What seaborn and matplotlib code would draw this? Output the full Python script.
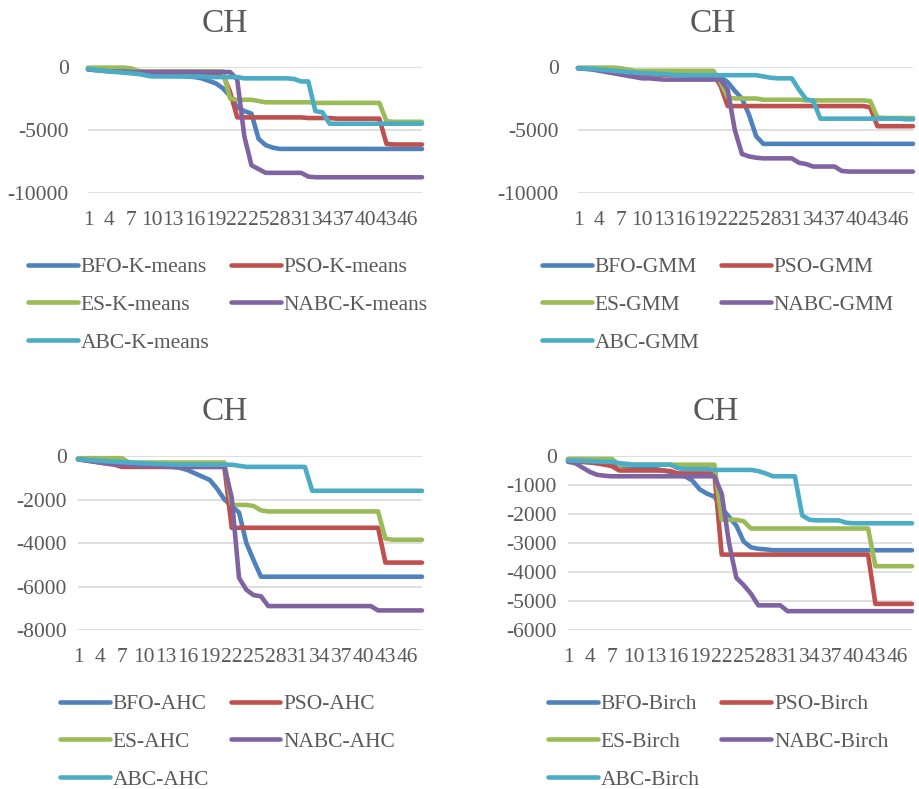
import matplotlib

matplotlib.use("Agg")
import matplotlib.pyplot as plt
import pandas as pd
import seaborn as sns

# iterations on the x axis
iters = list(range(1, 49))

methods = ["BFO", "PSO", "ES", "NABC", "ABC"]
colors = ["#4F81BD", "#C0504D", "#9BBB59", "#8064A2", "#4BACC6"]

# ---- K-means panel ----
kmeans_bfo = [-150, -200, -250, -300, -350, -400, -450, -500, -550, -600, -650, -650,
              -700, -700, -750, -800, -900, -1100, -1300, -1700, -2300, -3200, -3500, -3700,
              -5700, -6200, -6400, -6500, -6500, -6500, -6500, -6500, -6500, -6500, -6500, -6500,
              -6500, -6500, -6500, -6500, -6500, -6500, -6500, -6500, -6500, -6500, -6500, -6500]
kmeans_pso = [-150, -200, -250, -300, -350, -400, -450, -500, -550, -550, -600, -600,
              -600, -600, -600, -600, -600, -600, -600, -600, -2000, -4000, -4000, -4000,
              -4000, -4000, -4000, -4000, -4000, -4000, -4000, -4050, -4050, -4050, -4050, -4100,
              -4100, -4100, -4100, -4100, -4100, -4100, -6100, -6150, -6150, -6150, -6150, -6150]
kmeans_es = [-50, -50, -50, -50, -50, -50, -100, -300, -350, -350, -350, -350,
             -350, -350, -350, -350, -350, -350, -350, -350, -2500, -2600, -2600, -2600,
             -2700, -2800, -2800, -2800, -2800, -2800, -2800, -2800, -2850, -2850, -2850, -2850,
             -2850, -2850, -2850, -2850, -2850, -2850, -4300, -4350, -4350, -4350, -4350, -4350]
kmeans_nabc = [-200, -250, -300, -350, -350, -350, -400, -400, -400, -400, -400, -400,
               -400, -400, -400, -400, -400, -400, -400, -400, -400, -1000, -5500, -7800,
               -8100, -8400, -8400, -8400, -8400, -8400, -8400, -8700, -8750, -8750, -8750, -8750,
               -8750, -8750, -8750, -8750, -8750, -8750, -8750, -8750, -8750, -8750, -8750, -8750]
kmeans_abc = [-150, -250, -300, -350, -400, -450, -500, -550, -650, -750, -750, -750,
              -750, -750, -750, -750, -750, -800, -800, -800, -800, -800, -900, -900,
              -900, -900, -900, -900, -900, -950, -1150, -1150, -3500, -3600, -4500, -4500,
              -4500, -4500, -4500, -4500, -4500, -4500, -4500, -4500, -4500, -4500, -4500, -4500]

# ---- GMM panel ----
gmm_bfo = [-100, -120, -150, -200, -250, -300, -350, -400, -450, -500, -550, -600,
           -600, -650, -650, -650, -700, -700, -700, -700, -800, -1200, -1900, -2500,
           -3800, -5500, -6100, -6100, -6100, -6100, -6100, -6100, -6100, -6100, -6100, -6100,
           -6100, -6100, -6100, -6100, -6100, -6100, -6100, -6100, -6100, -6100, -6100, -6100]
gmm_pso = [-100, -120, -150, -200, -250, -300, -400, -450, -500, -550, -550, -550,
           -600, -600, -600, -600, -600, -600, -600, -600, -1500, -3100, -3100, -3100,
           -3100, -3100, -3100, -3100, -3100, -3100, -3100, -3100, -3100, -3100, -3100, -3100,
           -3100, -3100, -3100, -3100, -3100, -3200, -4700, -4700, -4700, -4700, -4700, -4700]
gmm_es = [-50, -50, -50, -50, -50, -50, -100, -200, -300, -300, -300, -300,
          -300, -300, -300, -300, -300, -300, -300, -300, -1200, -2400, -2500, -2500,
          -2500, -2500, -2600, -2600, -2600, -2600, -2600, -2600, -2650, -2650, -2650, -2650,
          -2650, -2650, -2650, -2650, -2650, -2700, -4000, -4050, -4050, -4050, -4050, -4050]
gmm_nabc = [-100, -150, -200, -300, -400, -500, -600, -700, -800, -900, -900, -950,
            -1000, -1000, -1000, -1000, -1000, -1000, -1000, -1000, -1000, -1800, -5000, -6900,
            -7100, -7200, -7250, -7250, -7250, -7250, -7250, -7600, -7700, -7900, -7900, -7900,
            -7900, -8250, -8300, -8300, -8300, -8300, -8300, -8300, -8300, -8300, -8300, -8300]
gmm_abc = [-100, -120, -150, -200, -250, -300, -350, -400, -450, -500, -500, -550,
           -550, -600, -650, -650, -650, -650, -650, -650, -650, -650, -650, -650,
           -650, -650, -750, -850, -900, -900, -900, -1800, -2550, -2700, -4100, -4100,
           -4100, -4100, -4100, -4100, -4100, -4100, -4100, -4100, -4100, -4100, -4150, -4150]

# ---- AHC panel ----
ahc_bfo = [-150, -180, -200, -230, -260, -280, -300, -320, -350, -380, -400, -420,
           -450, -500, -550, -650, -800, -950, -1100, -1500, -2000, -2300, -2600, -4000,
           -4800, -5550, -5550, -5550, -5550, -5550, -5550, -5550, -5550, -5550, -5550, -5550,
           -5550, -5550, -5550, -5550, -5550, -5550, -5550, -5550, -5550, -5550, -5550, -5550]
ahc_pso = [-150, -200, -250, -300, -350, -400, -500, -500, -500, -500, -500, -500,
           -500, -500, -500, -500, -500, -500, -500, -500, -500, -3300, -3300, -3300,
           -3300, -3300, -3300, -3300, -3300, -3300, -3300, -3300, -3300, -3300, -3300, -3300,
           -3300, -3300, -3300, -3300, -3300, -3300, -4900, -4900, -4900, -4900, -4900, -4900]
ahc_es = [-100, -100, -100, -100, -100, -100, -100, -300, -300, -300, -300, -300,
          -300, -300, -300, -300, -300, -300, -300, -300, -300, -2250, -2250, -2250,
          -2300, -2500, -2550, -2550, -2550, -2550, -2550, -2550, -2550, -2550, -2550, -2550,
          -2550, -2550, -2550, -2550, -2550, -2550, -3800, -3850, -3850, -3850, -3850, -3850]
ahc_nabc = [-150, -200, -250, -300, -350, -380, -400, -420, -450, -450, -450, -450,
            -500, -500, -500, -500, -500, -500, -500, -500, -500, -1900, -5600, -6150,
            -6400, -6450, -6900, -6900, -6900, -6900, -6900, -6900, -6900, -6900, -6900, -6900,
            -6900, -6900, -6900, -6900, -6900, -7100, -7100, -7100, -7100, -7100, -7100, -7100]
ahc_abc = [-150, -170, -200, -220, -240, -260, -280, -300, -320, -340, -350, -370,
           -380, -400, -400, -400, -400, -400, -400, -400, -400, -400, -450, -500,
           -500, -500, -500, -500, -500, -500, -500, -500, -1600, -1600, -1600, -1600,
           -1600, -1600, -1600, -1600, -1600, -1600, -1600, -1600, -1600, -1600, -1600, -1600]

# ---- Birch panel ----
birch_bfo = [-150, -170, -200, -220, -250, -280, -300, -320, -350, -380, -400, -420,
             -450, -500, -550, -650, -700, -850, -1150, -1300, -1400, -1800, -2100, -2400,
             -2950, -3150, -3200, -3220, -3250, -3250, -3250, -3250, -3250, -3250, -3250, -3250,
             -3250, -3250, -3250, -3250, -3250, -3250, -3250, -3250, -3250, -3250, -3250, -3250]
birch_pso = [-150, -180, -200, -220, -250, -300, -350, -500, -500, -500, -500, -500,
             -500, -500, -520, -600, -600, -600, -600, -600, -600, -3400, -3400, -3400,
             -3400, -3400, -3400, -3400, -3400, -3400, -3400, -3400, -3400, -3400, -3400, -3400,
             -3400, -3400, -3400, -3400, -3400, -3400, -5100, -5100, -5100, -5100, -5100, -5100]
birch_es = [-100, -100, -100, -100, -100, -100, -100, -300, -300, -300, -300, -300,
            -300, -300, -300, -300, -300, -300, -300, -300, -300, -2200, -2200, -2200,
            -2250, -2500, -2500, -2500, -2500, -2500, -2500, -2500, -2500, -2500, -2500, -2500,
            -2500, -2500, -2500, -2500, -2500, -2500, -3800, -3800, -3800, -3800, -3800, -3800]
birch_nabc = [-200, -250, -400, -550, -650, -680, -700, -700, -700, -700, -700, -700,
              -700, -700, -700, -700, -700, -700, -700, -700, -700, -1300, -3000, -4200,
              -4450, -4750, -5150, -5150, -5150, -5150, -5350, -5350, -5350, -5350, -5350, -5350,
              -5350, -5350, -5350, -5350, -5350, -5350, -5350, -5350, -5350, -5350, -5350, -5350]
birch_abc = [-150, -160, -170, -180, -190, -200, -200, -250, -270, -300, -300, -300,
             -300, -300, -300, -420, -450, -450, -450, -450, -480, -480, -480, -480,
             -480, -480, -520, -600, -700, -700, -700, -700, -2050, -2200, -2220, -2220,
             -2220, -2220, -2300, -2320, -2320, -2320, -2320, -2320, -2320, -2320, -2320, -2320]

W, H, DPI = 919, 789, 100
TEXT = "#595959"
GRID = "#D9D9D9"
FS = 15.5

sns.set_theme(style="white")
plt.rcParams["font.family"] = ["Liberation Serif", "DejaVu Serif"]

fig = plt.figure(figsize=(W / DPI, H / DPI), dpi=DPI)


def add_px_axes(left, top, right, bottom):
    return fig.add_axes([left / W, 1 - bottom / H, (right - left) / W, (bottom - top) / H])


def draw_panel(box, series, suffix, yticks, ypad, title_xy, legend_xy):
    ax = add_px_axes(*box)
    frames = []
    for m, vals in zip(methods, series):
        frames.append(pd.DataFrame({"iter": iters, "CH": vals, "method": f"{m}-{suffix}"}))
    df = pd.concat(frames, ignore_index=True)
    labels = [f"{m}-{suffix}" for m in methods]
    sns.lineplot(
        data=df, x="iter", y="CH", hue="method", hue_order=labels,
        palette=colors, linewidth=3.3, legend=False, errorbar=None, ax=ax,
        solid_capstyle="round", solid_joinstyle="round",
    )
    for ln in ax.lines:
        ln.set_clip_on(False)

    ax.set_xlim(iters[0], iters[-1])
    ax.set_ylim(min(yticks), 0)
    ax.set_yticks(yticks)
    ax.set_yticklabels([str(t) for t in yticks])
    ax.set_xticks(iters[::3])
    ax.set_xticklabels([str(i) for i in iters[::3]])
    ax.tick_params(axis="y", length=0, pad=ypad, labelsize=FS, labelcolor=TEXT)
    ax.tick_params(axis="x", length=0, pad=13, labelsize=FS, labelcolor=TEXT)
    ax.yaxis.grid(True, color=GRID, linewidth=1.2)
    ax.set_axisbelow(True)
    ax.set_xlabel("")
    ax.set_ylabel("")
    sns.despine(ax=ax, left=True, bottom=True)

    fig.text(title_xy[0] / W, 1 - title_xy[1] / H, "CH", ha="center", va="baseline",
             fontsize=24, color=TEXT)

    # Excel-like legend: column 1 = BFO, ES, ABC; column 2 = PSO, NABC
    order = [0, 2, 4, 1, 3]
    handles = [ax.lines[i] for i in order]
    leg = ax.legend(
        handles, [labels[i] for i in order], ncol=2, loc="upper left",
        bbox_to_anchor=(legend_xy[0] / W, 1 - legend_xy[1] / H),
        bbox_transform=fig.transFigure, frameon=False, fontsize=FS,
        handlelength=2.3, handletextpad=0.15, columnspacing=1.0,
        labelspacing=0.83, borderpad=0, borderaxespad=0,
    )
    for t in leg.get_texts():
        t.set_color(TEXT)
    return ax


draw_panel((88, 67, 422, 193),
           [kmeans_bfo, kmeans_pso, kmeans_es, kmeans_nabc, kmeans_abc],
           "K-means", [0, -5000, -10000], 14, (225, 32), (28, 257))
draw_panel((578, 67, 913, 193),
           [gmm_bfo, gmm_pso, gmm_es, gmm_nabc, gmm_abc],
           "GMM", [0, -5000, -10000], 14, (713, 32), (542, 257))
draw_panel((78, 456, 422, 630),
           [ahc_bfo, ahc_pso, ahc_es, ahc_nabc, ahc_abc],
           "AHC", [0, -2000, -4000, -6000, -8000], 8, (225, 420), (60, 694))
draw_panel((568, 456, 912, 630),
           [birch_bfo, birch_pso, birch_es, birch_nabc, birch_abc],
           "Birch", [0, -1000, -2000, -3000, -4000, -5000, -6000], 8, (716, 420), (548, 694))

fig.savefig("out.png", dpi=DPI)
